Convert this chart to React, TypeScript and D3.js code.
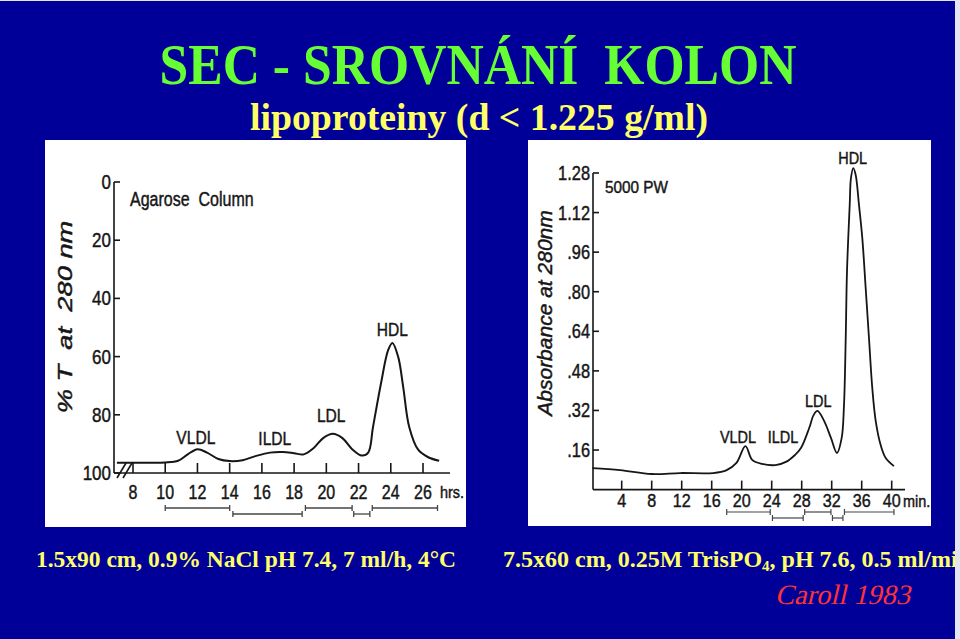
import React from "react";
import * as d3 from "d3";

// ---------- Left chart (Agarose column) ----------
const leftYTicks = [0, 20, 40, 60, 80, 100];
const leftXTicks = [8, 10, 12, 14, 16, 18, 20, 22, 24, 26];
const leftHours = [7.0, 8, 9, 10, 10.8, 11.4, 12, 12.6, 13.3, 14, 14.8, 15.6, 16.5, 17.3, 18, 18.6, 19.2, 19.8, 20.4, 21, 21.6, 22.2, 22.6, 22.9, 23.4, 23.84, 24.1, 24.46, 24.77, 25.14, 25.7, 26.3, 27];
const leftT = [96.5, 96.5, 96.5, 96.4, 95.8, 93.6, 91.8, 93.0, 95.2, 95.9, 95.6, 94.2, 93.0, 92.8, 93.2, 93.6, 91.5, 88.0, 86.5, 88.0, 91.8, 94.0, 93.0, 84.1, 69.0, 57.7, 55.3, 60.1, 70.4, 84.1, 92.0, 94.5, 95.8];
const leftBrackets: [number, number, number][] = [
  [10, 14, 0],
  [14.2, 18.5, 1],
  [18.7, 21.6, 0],
  [21.7, 22.7, 1],
  [22.85, 26.9, 0],
];
const leftPeaks: [string, number, number][] = [
  ["VLDL", 11.9, 90],
  ["ILDL", 16.8, 90.5],
  ["LDL", 20.3, 82.5],
  ["HDL", 24.1, 53],
];

// ---------- Right chart (5000PW) ----------
const rightYTicks = [1.28, 1.12, 0.96, 0.8, 0.64, 0.48, 0.32, 0.16];
const rightYLabels = ["1.28", "1.12", ".96", ".80", ".64", ".48", ".32", ".16"];
const rightXTicks = [4, 8, 12, 16, 20, 24, 28, 32, 36, 40];
const rightMin = [0.1, 3.8, 8.0, 11.8, 16.2, 18.0, 19.3, 20.5, 21.4, 22.7, 24.5, 25.9, 27.1, 27.9, 29.0, 29.6, 30.1, 31.0, 31.9, 32.7, 33.33, 33.64, 33.87, 34.04, 34.4, 34.57, 34.88, 35.2, 35.64, 36.08, 36.53, 36.97, 37.41, 37.87, 38.53, 39.2, 40.3];
const rightAbs = [0.087, 0.079, 0.063, 0.067, 0.067, 0.079, 0.108, 0.176, 0.12, 0.104, 0.099, 0.112, 0.14, 0.168, 0.249, 0.302, 0.318, 0.277, 0.209, 0.148, 0.209, 0.342, 0.613, 0.883, 1.15, 1.26, 1.3, 1.272, 1.15, 1.017, 0.815, 0.613, 0.411, 0.277, 0.18, 0.128, 0.095];
const rightBrackets: [number, number, number][] = [
  [18.0, 23.8, 0],
  [24.1, 28.2, 1],
  [28.4, 31.9, 0],
  [32.1, 33.5, 1],
  [33.7, 40.3, 0],
];
const rightPeaks: [string, number, number][] = [
  ["VLDL", 19.5, 0.19],
  ["ILDL", 25.5, 0.19],
  ["LDL", 30.2, 0.335],
  ["HDL", 34.8, 1.315],
];

const BLUE = "#000099";
const INK = "#161616";
const CHART_FONT = "'Liberation Sans', Arial, sans-serif";
const SERIF = "'Liberation Serif', 'Times New Roman', serif";

function NText({ x, y, children, size = 18, sx = 0.84, anchor = "middle", italic = false, rotate = 0 }: any) {
  return (
    <text
      transform={`translate(${x},${y}) rotate(${rotate}) scale(${sx},1)`}
      fontFamily={CHART_FONT}
      fontSize={size}
      fontStyle={italic ? "italic" : "normal"}
      textAnchor={anchor}
      fill={INK}
      stroke={INK}
      strokeWidth={0.45}
      style={{ whiteSpace: "pre" }}
    >
      {children}
    </text>
  );
}

export default function App() {
  // left scales
  const xL = d3.scaleLinear().domain([8, 26]).range([133, 423]);
  const yL = d3.scaleLinear().domain([0, 100]).range([182, 473]);
  const lineL = d3
    .line<number>()
    .x((_, i) => xL(leftHours[i]))
    .y((d) => yL(d))
    .curve(d3.curveCatmullRom.alpha(0.5));

  // right scales
  const xR = d3.scaleLinear().domain([0, 40]).range([591.7, 891.7]);
  const yR = d3.scaleLinear().domain([0, 1.28]).range([489.6, 173]);
  const lineR = d3
    .line<number>()
    .x((_, i) => xR(rightMin[i]))
    .y((d) => yR(d))
    .curve(d3.curveCatmullRom.alpha(0.5));

  const lAxisX = 114;
  const lBase = yL(100);
  const rAxisX = 593;
  const rBase = yR(0);

  return (
    <svg
      width={960}
      height={639}
      viewBox="0 0 960 639"
      style={{ position: "absolute", left: 0, top: 0, display: "block" }}
    >
      <defs>
        <clipPath id="slideClip">
          <rect x={0} y={0} width={955} height={639} />
        </clipPath>
      </defs>
      <rect x={0} y={0} width={960} height={639} fill="#e4e4f2" />
      <rect x={0} y={1} width={955} height={638} fill={BLUE} />

      {/* Titles */}
      <text
        x={478}
        y={84}
        textAnchor="middle"
        fontFamily={SERIF}
        fontWeight="bold"
        fontSize={56}
        fill="#66ff33"
        textLength={637}
        lengthAdjust="spacingAndGlyphs"
        style={{ whiteSpace: "pre" }}
      >
        {"SEC - SROVNÁNÍ  KOLON"}
      </text>
      <text
        x={479}
        y={130}
        textAnchor="middle"
        fontFamily={SERIF}
        fontWeight="bold"
        fontSize={38}
        fill="#ffff66"
        textLength={458}
        lengthAdjust="spacingAndGlyphs"
      >
        lipoproteiny (d &lt; 1.225 g/ml)
      </text>

      {/* ---------------- Left panel ---------------- */}
      <rect x={45} y={140} width={421} height={387} fill="#ffffff" />
      <g stroke={INK} fill="none" strokeWidth={1.6}>
        <line x1={lAxisX} y1={yL(0)} x2={lAxisX} y2={lBase} />
        {leftYTicks.map((t) => (
          <line key={t} x1={lAxisX} y1={yL(t)} x2={lAxisX + 6} y2={yL(t)} />
        ))}
        <line x1={lAxisX} y1={lBase} x2={450} y2={lBase} />
        {leftXTicks.map((t) => (
          <line key={t} x1={xL(t)} y1={lBase} x2={xL(t)} y2={lBase - 10} />
        ))}
        {/* axis break */}
        <line x1={117} y1={lBase + 5} x2={126} y2={lBase - 10} />
        <line x1={123} y1={lBase + 5} x2={132} y2={lBase - 10} />
        <path d={lineL(leftT) || ""} strokeWidth={2} />
      </g>
      <g stroke="#444" strokeWidth={1.3} fill="none">
        {leftBrackets.map(([a, b, r], i) => {
          const yy = 508 + r * 6;
          return (
            <g key={i}>
              <line x1={xL(a)} y1={yy} x2={xL(b)} y2={yy} />
              <line x1={xL(a)} y1={yy - 3} x2={xL(a)} y2={yy + 3} />
              <line x1={xL(b)} y1={yy - 3} x2={xL(b)} y2={yy + 3} />
            </g>
          );
        })}
      </g>
      {leftYTicks.map((t) => (
        <NText key={t} x={111} y={yL(t) + 7} size={20} sx={0.85} anchor="end">
          {String(t)}
        </NText>
      ))}
      {leftXTicks.map((t) => (
        <NText key={t} x={xL(t)} y={499} size={20} sx={0.8}>
          {String(t)}
        </NText>
      ))}
      <NText x={440} y={498} size={17} sx={0.85} anchor="start">hrs.</NText>
      <NText x={130} y={206} size={20} sx={0.8} anchor="start">Agarose  Column</NText>
      {leftPeaks.map(([n, h, v]) => (
        <NText key={n} x={xL(h)} y={yL(v)} size={19} sx={0.82}>{n}</NText>
      ))}
      <NText x={72} y={317} size={21} sx={1.3} italic rotate={-90}>% T  at  280 nm</NText>

      {/* ---------------- Right panel ---------------- */}
      <rect x={528} y={140} width={403} height={386} fill="#ffffff" />
      <g stroke={INK} fill="none" strokeWidth={1.6}>
        <line x1={rAxisX} y1={yR(1.28)} x2={rAxisX} y2={rBase} />
        {rightYTicks.map((t) => (
          <line key={t} x1={rAxisX} y1={yR(t)} x2={rAxisX + 6} y2={yR(t)} />
        ))}
        <line x1={rAxisX} y1={rBase} x2={905} y2={rBase} />
        {rightXTicks.map((t) => (
          <line key={t} x1={xR(t)} y1={rBase} x2={xR(t)} y2={rBase - 9} />
        ))}
        <path d={lineR(rightAbs) || ""} strokeWidth={1.8} />
      </g>
      <g stroke="#444" strokeWidth={1.2} fill="none">
        {rightBrackets.map(([a, b, r], i) => {
          const yy = 512 + r * 6;
          return (
            <g key={i}>
              <line x1={xR(a)} y1={yy} x2={xR(b)} y2={yy} />
              <line x1={xR(a)} y1={yy - 3} x2={xR(a)} y2={yy + 3} />
              <line x1={xR(b)} y1={yy - 3} x2={xR(b)} y2={yy + 3} />
            </g>
          );
        })}
      </g>
      {rightYTicks.map((t, i) => (
        <NText key={t} x={590} y={yR(t) + 7} size={20} sx={0.82} anchor="end">
          {rightYLabels[i]}
        </NText>
      ))}
      {rightXTicks.map((t) => (
        <NText key={t} x={xR(t)} y={507} size={19} sx={0.85}>
          {String(t)}
        </NText>
      ))}
      <NText x={903} y={507} size={17} sx={0.85} anchor="start">min.</NText>
      <NText x={605} y={193} size={17} sx={0.9} anchor="start">5000 PW</NText>
      {rightPeaks.map(([n, m, v]) => (
        <NText key={n} x={xR(m)} y={yR(v)} size={17} sx={0.85}>{n}</NText>
      ))}
      <NText x={552} y={313} size={21} sx={1.0} italic rotate={-90}>Absorbance at 280nm</NText>

      {/* Bottom captions */}
      <text
        x={36}
        y={567}
        fontFamily={SERIF}
        fontWeight="bold"
        fontSize={24}
        fill="#ffff66"
        textLength={420}
        lengthAdjust="spacingAndGlyphs"
      >
        1.5x90 cm, 0.9% NaCl pH 7.4, 7 ml/h, 4°C
      </text>
      <g clipPath="url(#slideClip)">
        <text x={503} y={567} fontFamily={SERIF} fontWeight="bold" fontSize={24} fill="#ffff66">
          7.5x60 cm, 0.25M TrisPO<tspan fontSize={15} dy={4}>4</tspan>
          <tspan dy={-4}>, pH 7.6, 0.5 ml/min</tspan>
        </text>
      </g>
      <text
        transform="translate(775,604) skewX(-13)"
        fontFamily={SERIF}
        fontSize={28}
        fill="#ff3333"
        textLength={135}
        lengthAdjust="spacingAndGlyphs"
      >
        Caroll 1983
      </text>
    </svg>
  );
}
